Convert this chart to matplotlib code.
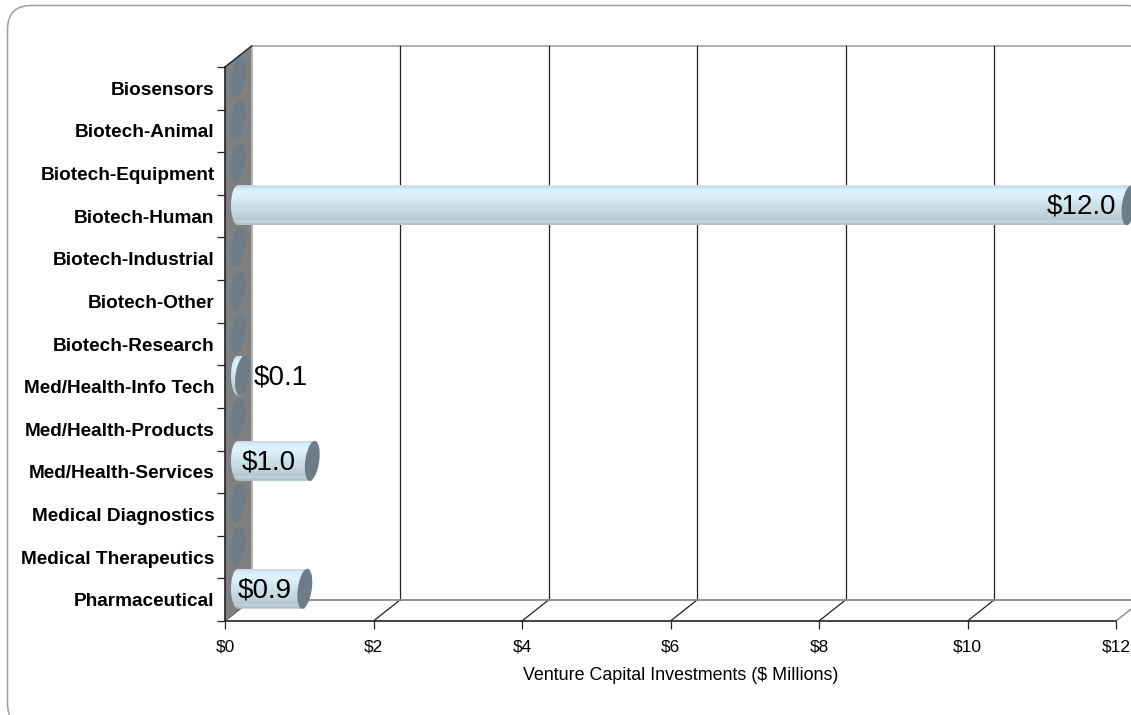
import numpy as np
import matplotlib
matplotlib.use("Agg")
import matplotlib.pyplot as plt
from matplotlib.patches import Polygon, FancyBboxPatch, PathPatch
from matplotlib.path import Path

categories = ['Biosensors', 'Biotech-Animal', 'Biotech-Equipment', 'Biotech-Human',
              'Biotech-Industrial', 'Biotech-Other', 'Biotech-Research',
              'Med/Health-Info Tech', 'Med/Health-Products', 'Med/Health-Services',
              'Medical Diagnostics', 'Medical Therapeutics', 'Pharmaceutical']
values = [0, 0, 0, 12.0, 0, 0, 0, 0.06, 0, 1.0, 0, 0, 0.9]
value_labels = ['', '', '', '$12.0', '', '', '', '$0.1', '', '$1.0', '', '', '$0.9']
xticks = [0, 2, 4, 6, 8, 10, 12]

W, H = 1131, 715
plt.rcParams['font.family'] = ['Liberation Sans', 'DejaVu Sans']

fig = plt.figure(figsize=(W / 100, H / 100), dpi=100)

# outer rounded frame, runs off the right and bottom of the picture
bg = fig.add_axes([0, 0, 1, 1], zorder=-1)
bg.set_xlim(0, W)
bg.set_ylim(H, 0)
bg.axis('off')
bg.add_patch(FancyBboxPatch((7.5, 5.5), 1143, 722, boxstyle='round,pad=0,rounding_size=24',
                            fc='white', ec='#a0a0a0', lw=1.1))

# front plane of the 3d box, in pixels
left, right, top, bottom = 225, 1116, 67, 621
ax = fig.add_axes([left / W, 1 - bottom / H, (right - left) / W, (bottom - top) / H])
ax.set_xlim(0, 12)
ax.set_ylim(13, 0)
ax.patch.set_alpha(0)

px = 12 / (right - left)       # one pixel in x data units
py = 13 / (bottom - top)       # one pixel in y data units
depth_x, depth_y = 26.5 * px, 21 * py

# side wall
ax.add_patch(Polygon([(0, 0), (depth_x, -depth_y), (depth_x, 13 - depth_y), (0, 13)],
                     fc='#808080', ec='none', clip_on=False, zorder=1))
ax.plot([0, depth_x], [0, -depth_y], color='#222222', lw=1, clip_on=False, zorder=2)
ax.plot([depth_x, 12 + 15 * px], [-depth_y, -depth_y], color='#a0a0a0', lw=1.2,
        clip_on=False, zorder=1)
ax.plot([depth_x, depth_x], [-depth_y, 13 - depth_y], color='#a8a8a8', lw=1.2,
        clip_on=False, zorder=1)

# back wall grid and floor
for t in xticks[1:-1]:
    ax.plot([t + depth_x, t + depth_x], [-depth_y, 13 - depth_y], color='#222222', lw=0.9,
            clip_on=False, zorder=1)
for t in xticks[1:]:
    ax.plot([t, t + depth_x], [13, 13 - depth_y], color='#222222' if t < 12 else '#808080',
            lw=0.9, clip_on=False, zorder=1)
ax.plot([depth_x, 12 + 15 * px], [13 - depth_y, 13 - depth_y], color='#8c8c8c', lw=1.3,
        clip_on=False, zorder=1)
ax.plot([0, depth_x], [13, 13 - depth_y], color='#6a6a6a', lw=0.9, clip_on=False, zorder=2)

# cylinders
band_colors = ['#c9dde6', '#d6ebf5', '#dcf1fb', '#ddf2fc', '#d9eef8', '#d6ebf5', '#d2e6f0',
               '#cfe3ed', '#cbdfe9', '#c8dce6', '#c4d8e2', '#c0d4de', '#bccfd9', '#b7cad4',
               '#c0d1da', '#b0c2cc']
x_shift = 13 * px
y_shift = 11 * py
half_w = 7 * px
half_h = 20 * py
tilt = 2.5 * px
t_param = np.linspace(0, 2 * np.pi, 80)

for i, (v, lab) in enumerate(zip(values, value_labels)):
    cx0 = x_shift
    cx1 = v + x_shift
    cy = i + 0.5 - y_shift
    end_x = cx1 + half_w * np.cos(t_param) - tilt * np.sin(t_param)
    end_y = cy + half_h * np.sin(t_param)
    if v > 0:
        # body = left half of the start ellipse + box up to the end
        a = np.linspace(np.pi / 2, 3 * np.pi / 2, 40)
        verts = [(cx0 + half_w * np.cos(s), cy + half_h * np.sin(s)) for s in a]
        verts += [(cx1, cy - half_h), (cx1, cy + half_h), verts[0]]
        clip = PathPatch(Path(verts), transform=ax.transData, fc='none', ec='none')
        ax.add_patch(clip)
        clip.set_clip_on(False)
        band_h = 2 * half_h / len(band_colors)
        for k, c in enumerate(band_colors):
            bar = ax.barh(cy - half_h + (k + 0.5) * band_h, v + 2 * half_w, band_h * 1.05,
                          left=cx0 - half_w, color=c, lw=0, zorder=3)[0]
            bar.set_clip_path(clip)
            bar.set_clip_box(None)
    ax.add_patch(Polygon(np.column_stack([end_x, end_y]), fc='#6c7d89', ec='none',
                         clip_on=False, zorder=4))
    if lab:
        if v < 0.5:
            ax.annotate(lab, (cx1, cy), xytext=(8, -1), textcoords='offset points',
                        ha='left', va='center', fontsize=20, color='black', zorder=6,
                        annotation_clip=False)
        else:
            off = -12 if lab == '$1.0' else -9
            ax.annotate(lab, (cx1, cy), xytext=(off, -1), textcoords='offset points',
                        ha='right', va='center', fontsize=20, color='black', zorder=6,
                        annotation_clip=False)

# axes
for s in ['top', 'right']:
    ax.spines[s].set_visible(False)
for s in ['left', 'bottom']:
    ax.spines[s].set_color('#222222')
    ax.spines[s].set_linewidth(1.2)
    ax.spines[s].set_zorder(5)

ax.set_xticks(xticks)
ax.set_xticklabels(['$%d' % t for t in xticks], fontsize=12.5)
ax.tick_params(axis='x', length=6, width=0.9, color='#222222', pad=7)

ax.set_yticks(np.arange(14))
ax.set_yticklabels([])
ax.tick_params(axis='y', which='major', length=6, width=0.9, color='#222222')
ax.set_yticks(np.arange(13) + 0.5, minor=True)
ax.set_yticklabels(categories, minor=True, fontsize=13.7, fontweight='bold')
ax.tick_params(axis='y', which='minor', length=0, pad=7.5)

ax.set_xlabel('Venture Capital Investments ($ Millions)', fontsize=12.9, labelpad=9, x=0.511)

fig.savefig('out.png', dpi=100)
